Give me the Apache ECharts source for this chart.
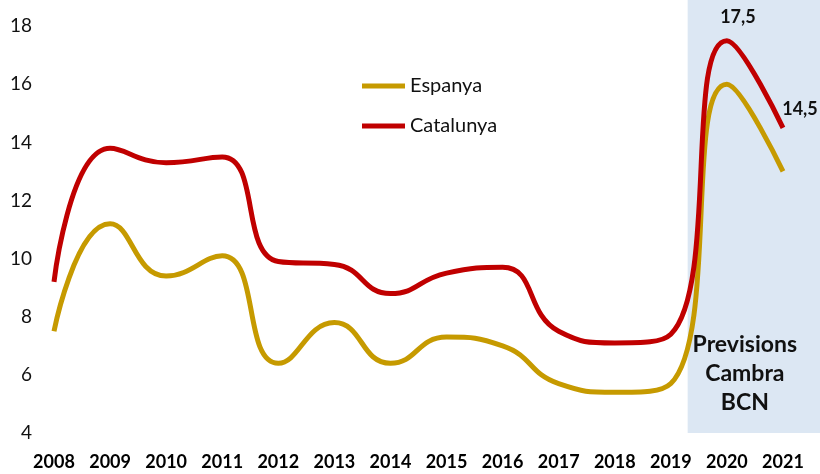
<!DOCTYPE html>
<html>
<head>
<meta charset="utf-8">
<script src="https://cdn.jsdelivr.net/npm/echarts@6/dist/echarts.min.js"></script>
<style>
  html, body { margin: 0; padding: 0; background: #fff; }
  #chart { width: 820px; height: 474px; }
</style>
</head>
<body>
<div id="chart"></div>
<script>
const years = [2008, 2009, 2010, 2011, 2012, 2013, 2014, 2015, 2016, 2017, 2018, 2019, 2020, 2021]
const espanya = [7.5, 11.2, 9.4, 10.1, 6.4, 7.8, 6.4, 7.3, 7.0, 5.7, 5.4, 5.7, 16.0, 13.0]
const catalunya = [9.2, 13.8, 13.3, 13.5, 9.9, 9.8, 8.8, 9.5, 9.7, 7.5, 7.1, 7.4, 17.5, 14.5]
// forecast band (Cambra BCN)
const forecastFrom = 2019.3
const forecastText = 'Previsions\nCambra\nBCN'

// axis extents run to the page edge so the band can reach it
const xMax = 2021.66
const yMax = 18.9

const font = 'Lato, "DejaVu Sans", sans-serif'

const chart = echarts.init(document.getElementById('chart'))

// only the two forecast values carry a label
const catData = years.map((y, i) => {
    const item = { value: [y, catalunya[i]] }
    if (y === 2020) {
        item.label = { show: true, position: 'top', distance: 14, offset: [11, 0] }
    }
    if (y === 2021) {
        item.label = { show: true, position: 'top', offset: [17, -5] }
    }
    return item
})

const option = {
    animation: false,
    grid: { left: 54, right: 0, top: 0, bottom: 41 },
    legend: {
        orient: 'vertical',
        left: 357,
        top: 71,
        itemWidth: 43,
        itemHeight: 5,
        itemGap: 20,
        icon: 'rect',
        textStyle: { fontFamily: font, fontSize: 20, color: '#111' },
        data: ['Espanya', 'Catalunya']
    },
    xAxis: {
        type: 'value',
        min: 2008,
        max: xMax,
        interval: 1,
        axisLine: { show: false },
        axisTick: { show: false },
        splitLine: { show: false },
        axisLabel: {
            margin: 20,
            showMaxLabel: false,
            fontFamily: font,
            fontSize: 18,
            fontWeight: 'bold',
            color: '#000',
            formatter: v => (Number.isInteger(v) ? String(v) : '')
        }
    },
    yAxis: {
        type: 'value',
        min: 4,
        max: yMax,
        interval: 2,
        axisLine: { show: false },
        axisTick: { show: false },
        splitLine: { show: false },
        axisLabel: {
            margin: 22,
            showMaxLabel: false,
            fontFamily: font,
            fontSize: 19,
            color: '#111',
            formatter: v => (v % 2 === 0 ? String(v) : '')
        }
    },
    series: [
        {
            name: 'band',
            type: 'line',
            data: [],
            silent: true,
            z: 0,
            markArea: {
                silent: true,
                itemStyle: { color: '#dce7f3' },
                label: {
                    show: true,
                    position: 'insideBottom',
                    distance: 16,
                    offset: [-9, 0],
                    fontFamily: font,
                    fontSize: 23,
                    fontWeight: 'bold',
                    lineHeight: 29,
                    color: '#111'
                },
                data: [[
                    { xAxis: forecastFrom, yAxis: 4, name: forecastText },
                    { xAxis: xMax, yAxis: yMax }
                ]]
            }
        },
        {
            name: 'Espanya',
            type: 'line',
            smooth: 0.5,
            symbol: 'none',
            lineStyle: { width: 5, color: '#c69a00' },
            itemStyle: { color: '#c69a00' },
            data: years.map((y, i) => [y, espanya[i]]),
            z: 3
        },
        {
            name: 'Catalunya',
            type: 'line',
            smooth: 0.5,
            symbol: 'circle',
            symbolSize: 0,
            showSymbol: true,
            lineStyle: { width: 5, color: '#c00000' },
            itemStyle: { color: '#c00000' },
            label: {
                fontFamily: font,
                fontSize: 18,
                fontWeight: 'bold',
                color: '#111',
                formatter: p => p.value[1].toFixed(1).replace('.', ',')
            },
            data: catData,
            z: 4
        }
    ]
}

chart.setOption(option)
</script>
</body>
</html>
